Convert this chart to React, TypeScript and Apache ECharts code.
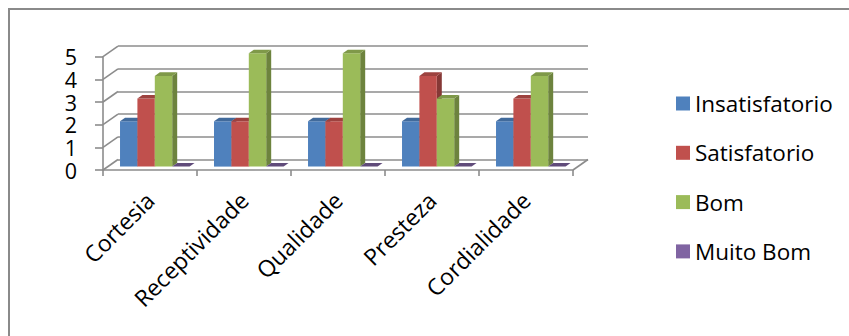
import React, { useEffect, useRef } from "react";
import * as echarts from "echarts";

// Survey results per service attribute
const categories = ["Cortesia", "Receptividade", "Qualidade", "Presteza", "Cordialidade"];
const seriesNames = ["Insatisfatorio", "Satisfatorio", "Bom", "Muito Bom"];
const insatisfatorio = [2, 2, 2, 2, 2];
const satisfatorio = [3, 2, 2, 4, 3];
const bom = [4, 5, 5, 3, 4];
const muitoBom = [0, 0, 0, 0, 0];
const seriesValues = [insatisfatorio, satisfatorio, bom, muitoBom];
const yTicks = [0, 1, 2, 3, 4, 5];

const baseColors = ["#4F81BD", "#C0504D", "#9BBB59", "#8064A2"];

// 3D look: full floor depth, plane the bars stand on, and each bar's own depth
const DEPTH = { dx: 15, dy: -10.5 };
const BAR_PLANE = { dx: 4.8, dy: -3.4 };
const BAR_DEPTH = { dx: 5, dy: -3.6 };
const BAR_FRAC = 0.185;
const LINE_COLOR = "#8c8c8c";
const FONT = "'Open Sans', 'Noto Sans', sans-serif";

function shade(hex: string, f: number): string {
  const n = parseInt(hex.slice(1), 16);
  const r = Math.round(((n >> 16) & 255) * f);
  const g = Math.round(((n >> 8) & 255) * f);
  const b = Math.round((n & 255) * f);
  return `rgb(${r},${g},${b})`;
}

export default function App() {
  const ref = useRef<HTMLDivElement>(null);

  useEffect(() => {
    if (!ref.current) return;
    const chart = echarts.init(ref.current, null, { renderer: "svg" });

    const barSeries = seriesValues.map((vals, s) => ({
      type: "custom" as const,
      name: seriesNames[s],
      xAxisIndex: 0,
      yAxisIndex: 0,
      z: 10 + s,
      itemStyle: { color: baseColors[s] },
      encode: { x: 0, y: 1 },
      data: vals.map((v, i) => [i, v]),
      renderItem: (_params: any, api: any) => {
        const ci = api.value(0);
        const v = api.value(1);
        const base = api.coord([ci, 0]);
        const top = api.coord([ci, v]);
        const slot = api.size([1, 0])[0];
        const bw = slot * BAR_FRAC;
        const x0 = base[0] + BAR_PLANE.dx + (s - 2) * bw;
        const x1 = x0 + bw;
        const yb = base[1] + BAR_PLANE.dy;
        const yt = top[1] + BAR_PLANE.dy;
        const { dx, dy } = BAR_DEPTH;
        const children: any[] = [];
        if (yb - yt > 0.01) {
          children.push({
            type: "polygon",
            shape: { points: [[x1, yt], [x1 + dx, yt + dy], [x1 + dx, yb + dy], [x1, yb]] },
            style: { fill: shade(baseColors[s], 0.7) },
          });
          children.push({
            type: "rect",
            shape: { x: x0, y: yt, width: bw, height: yb - yt },
            style: { fill: baseColors[s] },
          });
        }
        children.push({
          type: "polygon",
          shape: { points: [[x0, yt], [x1, yt], [x1 + dx, yt + dy], [x0 + dx, yt + dy]] },
          style: { fill: shade(baseColors[s], yb - yt > 0.01 ? 0.82 : 0.75) },
        });
        return { type: "group", children };
      },
    }));

    // Side-wall diagonals of each gridline plus the floor's right edge
    const frameSeries = {
      type: "custom" as const,
      name: "frame",
      xAxisIndex: 0,
      yAxisIndex: 0,
      z: 5,
      silent: true,
      encode: { x: 0, y: 1 },
      data: yTicks.map((v) => [0, v]),
      renderItem: (_params: any, api: any) => {
        const v = api.value(1);
        const p = api.coord([0, v]);
        const slot = api.size([1, 0])[0];
        const xl = p[0] - slot / 2;
        const children: any[] = [
          {
            type: "line",
            shape: { x1: xl, y1: p[1], x2: xl + DEPTH.dx, y2: p[1] + DEPTH.dy },
            style: { stroke: LINE_COLOR, lineWidth: 1.6 },
          },
        ];
        if (v === 0) {
          const pr = api.coord([categories.length - 1, 0]);
          const xr = pr[0] + slot / 2;
          children.push({
            type: "line",
            shape: { x1: xr, y1: pr[1], x2: xr + DEPTH.dx, y2: pr[1] + DEPTH.dy },
            style: { stroke: LINE_COLOR, lineWidth: 1.6 },
          });
        }
        return { type: "group", children };
      },
    };

    chart.setOption({
      animation: false,
      backgroundColor: "#ffffff",
      graphic: [
        {
          type: "rect",
          shape: { x: 9, y: 9, width: 900, height: 400 },
          style: { fill: "none", stroke: "#8a8a8a", lineWidth: 2 },
          z: 0,
        },
      ],
      legend: {
        orient: "vertical",
        left: 671,
        top: 87,
        itemWidth: 14,
        itemHeight: 14,
        itemGap: 26.3,
        icon: "rect",
        data: seriesNames,
        textStyle: { fontFamily: FONT, fontSize: 22.5, lineHeight: 22, color: "#000" },
      },
      grid: [
        // front plane
        { left: 103, top: 56.7, width: 470, height: 113.3 },
        // back wall
        { left: 103 + DEPTH.dx, top: 56.7 + DEPTH.dy, width: 470, height: 113.3 },
      ],
      xAxis: [
        {
          type: "category",
          gridIndex: 0,
          data: categories,
          boundaryGap: true,
          axisLine: { show: true, lineStyle: { color: LINE_COLOR, width: 1.6 } },
          axisTick: { show: true, length: 6, interval: 0, lineStyle: { color: LINE_COLOR, width: 1.6 } },
          axisLabel: {
            interval: 0,
            rotate: 45,
            margin: 26,
            fontFamily: FONT,
            fontSize: 23,
            color: "#000",
          },
          splitLine: { show: false },
        },
        {
          type: "category",
          gridIndex: 1,
          data: categories,
          show: false,
        },
      ],
      yAxis: [
        {
          type: "value",
          gridIndex: 0,
          min: 0,
          max: 5,
          interval: 1,
          axisLine: { show: true, lineStyle: { color: LINE_COLOR, width: 1.6 } },
          axisTick: { show: true, length: 8, lineStyle: { color: LINE_COLOR, width: 1.6 } },
          axisLabel: { margin: 26, fontFamily: FONT, fontSize: 21.5, lineHeight: 20, color: "#000" },
          splitLine: { show: false },
        },
        {
          type: "value",
          gridIndex: 1,
          min: 0,
          max: 5,
          interval: 1,
          axisLine: { show: false },
          axisTick: { show: false },
          axisLabel: { show: false },
          splitLine: { show: true, lineStyle: { color: LINE_COLOR, width: 1.6 } },
        },
      ],
      series: [frameSeries, ...barSeries],
    });

    return () => chart.dispose();
  }, []);

  return (
    <div
      ref={ref}
      style={{ position: "fixed", left: 0, top: 0, width: 849, height: 336, background: "#fff" }}
    />
  );
}
